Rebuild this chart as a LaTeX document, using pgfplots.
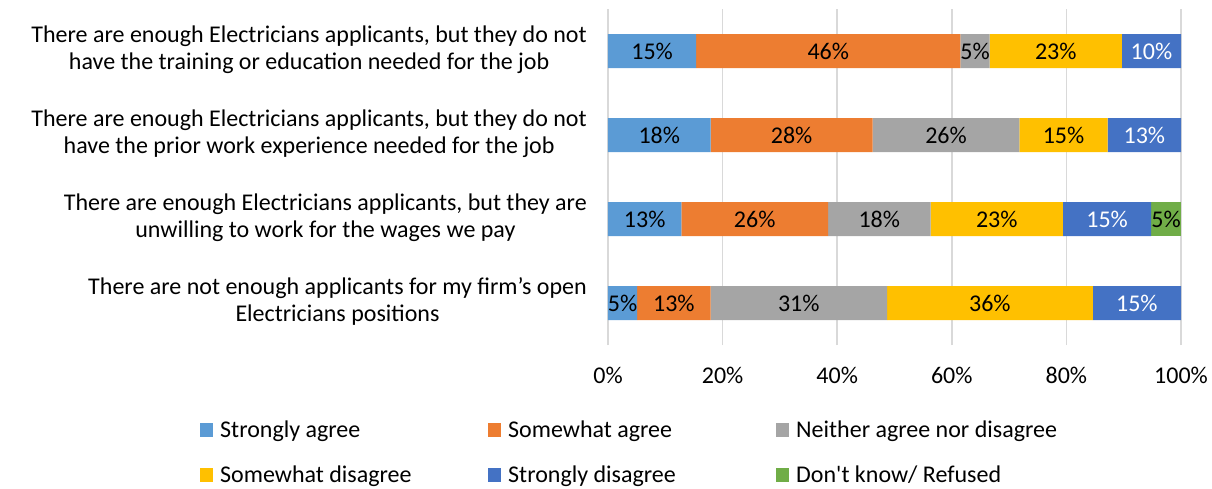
\documentclass[border=0pt]{standalone}
\usepackage{pgfplots}
\pgfplotsset{compat=1.18}
\usepackage{pgfplotstable}
\usepackage{fontspec}
\setmainfont{Carlito}
\definecolor{c1}{HTML}{5B9BD5}
\definecolor{c2}{HTML}{ED7D31}
\definecolor{c3}{HTML}{A5A5A5}
\definecolor{c4}{HTML}{FFC000}
\definecolor{c5}{HTML}{4472C4}
\definecolor{c6}{HTML}{70AD47}
\pgfplotstableread{
y sa swa nei swd sd dk
0 5.1 12.8 30.8 35.9 15.4 0
1 12.8 25.6 17.9 23.1 15.4 5.2
2 17.9 28.3 25.6 15.4 12.8 0
3 15.4 46.1 5.1 23.1 10.3 0
}\data
\newcommand{\lfont}{\fontsize{24}{26.5}\selectfont}
\begin{document}
\begin{tikzpicture}
\useasboundingbox (-608pt,-143pt) rectangle (604pt,345pt);
\begin{axis}[
  at={(0,0)}, anchor=south west,
  scale only axis, width=573pt, height=336pt,
  xbar stacked, bar width=34pt,
  xmin=0, xmax=100, ymin=-0.5, ymax=3.5,
  xtick={0,20,...,100},
  xticklabel={\pgfmathprintnumber{\tick}\%},
  /pgf/number format/assume math mode=true,
  ytick={0,1,2,3},
  yticklabels={
    {There are not enough applicants for my firm’s open\\Electricians positions},
    {There are enough Electricians applicants, but they are\\unwilling to work for the wages we pay},
    {There are enough Electricians applicants, but they do not\\have the prior work experience needed for the job},
    {There are enough Electricians applicants, but they do not\\have the training or education needed for the job}},
  yticklabel style={align=center, font=\lfont, inner xsep=0pt, xshift=-21pt, yshift=1.5pt},
  xticklabel style={font=\lfont, yshift=-19pt},
  axis line style={draw=none},
  major tick style={draw=none},
  xmajorgrids, grid style={draw=black!15, line width=1.6pt},
  nodes near coords={\ifdim\rawv pt>0.5pt\pgfmathprintnumber[fixed,precision=0]{\rawv}\%\fi},
  every node near coord/.append style={font=\lfont, anchor=center, inner sep=0pt},
  legend columns=3,
  legend cell align=left,
  legend style={draw=none, at={(-0.712,-0.226)}, anchor=north west,
     font=\lfont, row sep=27pt, inner sep=0pt,
     nodes={inner sep=0pt},
     /tikz/every odd column/.append style={column sep=7pt}},
  legend image code/.code={\fill[#1] (0pt,-7pt) rectangle (13pt,7pt);},
]
\addplot[fill=c1, draw=none, visualization depends on={\thisrow{sa} \as \rawv}] table[x=sa,y=y] {\data};
\addlegendentry{\makebox[268pt][l]{Strongly agree}}
\addplot[fill=c2, draw=none, visualization depends on={\thisrow{swa} \as \rawv}] table[x=swa,y=y] {\data};
\addlegendentry{\makebox[268pt][l]{Somewhat agree}}
\addplot[fill=c3, draw=none, visualization depends on={\thisrow{nei} \as \rawv}] table[x=nei,y=y] {\data};
\addlegendentry{\makebox[268pt][l]{Neither agree nor disagree}}
\addplot[fill=c4, draw=none, visualization depends on={\thisrow{swd} \as \rawv}] table[x=swd,y=y] {\data};
\addlegendentry{\makebox[268pt][l]{Somewhat disagree}}
\addplot[fill=c5, draw=none, visualization depends on={\thisrow{sd} \as \rawv},
   every node near coord/.append style={text=white}] table[x=sd,y=y] {\data};
\addlegendentry{\makebox[268pt][l]{Strongly disagree}}
\addplot[fill=c6, draw=none, visualization depends on={\thisrow{dk} \as \rawv}] table[x=dk,y=y] {\data};
\addlegendentry{\makebox[268pt][l]{Don\textquotesingle t know/ Refused}}
\end{axis}
\end{tikzpicture}
\end{document}
